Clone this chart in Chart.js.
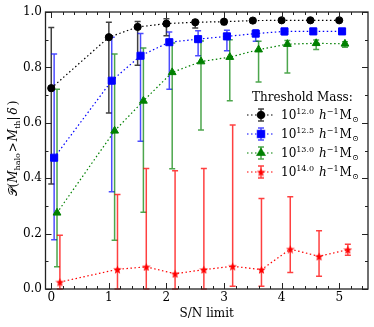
<!DOCTYPE html>
<html>
<head>
<meta charset="utf-8">
<script src="https://cdn.jsdelivr.net/npm/chart.js@4.4.0/dist/chart.umd.min.js"></script>
<style>
  html, body { margin: 0; padding: 0; background: #fff; }
</style>
</head>
<body>
<canvas id="chart" width="374" height="327"></canvas>
<script>
// S/N limit positions (each mass threshold slightly offset)
const snBlack = [0, 1, 1.5, 2, 2.5, 3, 3.5, 4, 4.5, 5];
const snBlue  = [0.05, 1.05, 1.55, 2.05, 2.55, 3.05, 3.55, 4.05, 4.55, 5.05];
const snGreen = [0.1, 1.1, 1.6, 2.1, 2.6, 3.1, 3.6, 4.1, 4.6, 5.1];
const snRed   = [0.15, 1.15, 1.65, 2.15, 2.65, 3.15, 3.65, 4.15, 4.65, 5.15];

// probability + error bar ends
const pBlack  = [0.725, 0.909, 0.946, 0.958, 0.963, 0.965, 0.969, 0.970, 0.970, 0.970];
const loBlack = [0.379, 0.635, 0.808, 0.914, 0.942, 0.955, 0.962, 0.965, 0.966, 0.967];
const hiBlack = [0.944, 0.963, 0.966, 0.976, 0.970, 0.972, 0.974, 0.974, 0.974, 0.973];

const pBlue  = [0.474, 0.752, 0.842, 0.891, 0.902, 0.912, 0.922, 0.930, 0.930, 0.930];
const loBlue = [0.178, 0.351, 0.533, 0.721, 0.842, 0.860, 0.894, 0.918, 0.924, 0.925];
const hiBlue = [0.848, 0.909, 0.922, 0.928, 0.932, 0.934, 0.936, 0.938, 0.935, 0.934];

const pGreen  = [0.275, 0.571, 0.679, 0.782, 0.821, 0.837, 0.864, 0.884, 0.887, 0.885];
const loGreen = [0.080, 0.176, 0.277, 0.434, 0.574, 0.680, 0.747, 0.780, 0.865, 0.873];
const hiGreen = [0.721, 0.848, 0.870, 0.888, 0.895, 0.900, 0.894, 0.897, 0.899, 0.893];

const pRed  = [0.025, 0.071, 0.080, 0.055, 0.070, 0.082, 0.070, 0.144, 0.118, 0.142];
const loRed = [0, 0, 0, 0, 0, 0.010, 0.010, 0.060, 0.046, 0.122];
const hiRed = [0.194, 0.341, 0.435, 0.427, 0.435, 0.592, 0.327, 0.333, 0.210, 0.162];

const massExp = ['12.0', '12.5', '13.0', '14.0'];
const xTicks = [0, 1, 2, 3, 4, 5];
const yTicks = [0, 0.2, 0.4, 0.6, 0.8, 1.0];

const SERIF = '"DejaVu Serif", "Liberation Serif", serif';

// filled five point star for the 10^14 markers
function makeStar(color, size) {
  const c = document.createElement('canvas');
  c.width = size; c.height = size;
  const g = c.getContext('2d');
  const r1 = size / 2, r2 = size / 4.6, cx = size / 2, cy = size / 2 + 0.5;
  g.beginPath();
  for (let i = 0; i < 10; i++) {
    const r = i % 2 ? r2 : r1;
    const a = -Math.PI / 2 + i * Math.PI / 5;
    g.lineTo(cx + r * Math.cos(a), cy + r * Math.sin(a));
  }
  g.closePath();
  g.fillStyle = color;
  g.fill();
  return c;
}
const starImg = makeStar('#ff0000', 9);

const series = [
  { x: snBlack, p: pBlack, lo: loBlack, hi: hiBlack, color: '#000000', bar: 'rgba(0,0,0,0.75)', style: 'circle', r: 3.6 },
  { x: snBlue, p: pBlue, lo: loBlue, hi: hiBlue, color: '#0000ff', bar: 'rgba(0,0,255,0.7)', style: 'rect', r: 5 },
  { x: snGreen, p: pGreen, lo: loGreen, hi: hiGreen, color: '#008000', bar: 'rgba(0,128,0,0.7)', style: 'triangle', r: 4.5 },
  { x: snRed, p: pRed, lo: loRed, hi: hiRed, color: '#ff0000', bar: 'rgba(255,0,0,0.75)', style: starImg, r: 4 }
];

function drawErr(ctx, x, y1, y2, color) {
  const cap = 3;
  ctx.strokeStyle = color;
  ctx.lineWidth = 1.5;
  ctx.beginPath();
  ctx.moveTo(x, y1); ctx.lineTo(x, y2);
  ctx.moveTo(x - cap, y1); ctx.lineTo(x + cap, y1);
  ctx.moveTo(x - cap, y2); ctx.lineTo(x + cap, y2);
  ctx.stroke();
}

// draws a list of text pieces one after another, returns end x
function drawParts(ctx, parts, x, y) {
  for (const p of parts) {
    ctx.font = p.font;
    ctx.fillText(p.t, x, y + (p.dy || 0));
    x += ctx.measureText(p.t).width + (p.gap || 0);
  }
  return x;
}
function partsWidth(ctx, parts) {
  let w = 0;
  for (const p of parts) { ctx.font = p.font; w += ctx.measureText(p.t).width + (p.gap || 0); }
  return w;
}

function drawMarker(ctx, s, x, y) {
  if (s.style === starImg) {
    ctx.drawImage(starImg, x - starImg.width / 2, y - starImg.height / 2);
    return;
  }
  Chart.helpers.drawPoint(ctx, { pointStyle: s.style, radius: s.r, rotation: 0, borderWidth: 1 }, x, y);
  ctx.fill();
}

const decor = {
  id: 'decor',
  beforeDatasetsDraw(chart) {
    const ctx = chart.ctx, xs = chart.scales.x, ys = chart.scales.y;
    ctx.save();
    series.forEach(s => {
      s.x.forEach((v, i) => {
        drawErr(ctx, xs.getPixelForValue(v), ys.getPixelForValue(s.lo[i]), ys.getPixelForValue(s.hi[i]), s.bar);
      });
    });
    ctx.restore();
  },
  afterDatasetsDraw(chart) {
    const ctx = chart.ctx, a = chart.chartArea, xs = chart.scales.x, ys = chart.scales.y;
    ctx.save();

    // frame
    ctx.strokeStyle = '#222';
    ctx.lineWidth = 1.3;
    ctx.strokeRect(a.left, a.top, a.right - a.left, a.bottom - a.top);

    // inward ticks on all four sides
    ctx.lineWidth = 1;
    ctx.beginPath();
    for (let v = 0; v <= 5.45; v += 0.2) {
      const major = Math.abs(v - Math.round(v)) < 1e-6;
      const L = major ? 6 : 3;
      const px = Math.round(xs.getPixelForValue(v)) + 0.5;
      ctx.moveTo(px, a.bottom); ctx.lineTo(px, a.bottom - L);
      ctx.moveTo(px, a.top); ctx.lineTo(px, a.top + L);
    }
    for (let v = 0; v <= 1.001; v += 0.1) {
      const major = Math.abs(v * 5 - Math.round(v * 5)) < 1e-6;
      const L = major ? 6 : 3;
      const py = Math.round(ys.getPixelForValue(v)) + 0.5;
      ctx.moveTo(a.left, py); ctx.lineTo(a.left + L, py);
      ctx.moveTo(a.right, py); ctx.lineTo(a.right - L, py);
    }
    ctx.stroke();

    // legend
    ctx.fillStyle = '#000';
    ctx.textBaseline = 'alphabetic';
    ctx.textAlign = 'left';
    ctx.font = '12px ' + SERIF;
    ctx.fillText('Threshold Mass:', a.right - 116, a.top + 89);
    series.forEach((s, i) => {
      const y = a.top + 103 + i * 19;
      const x0 = a.right - 121, x1 = a.right - 95, xm = a.right - 107;
      ctx.save();
      ctx.strokeStyle = s.color;
      ctx.lineWidth = 1.2;
      ctx.setLineDash([1.5, 2.5]);
      ctx.beginPath(); ctx.moveTo(x0, y); ctx.lineTo(x1, y); ctx.stroke();
      ctx.restore();
      drawErr(ctx, xm, y - 6, y + 6, s.bar);
      ctx.fillStyle = s.color;
      drawMarker(ctx, s, xm, y);
      ctx.fillStyle = '#000';
      drawParts(ctx, [
        { t: '10', font: '12px ' + SERIF },
        { t: massExp[i], font: '8px ' + SERIF, dy: -5, gap: 5 },
        { t: 'h', font: 'italic 12px ' + SERIF },
        { t: '\u22121', font: '8px ' + SERIF, dy: -5, gap: 1 },
        { t: 'M', font: '12px ' + SERIF },
        { t: '\u2299', font: '8px ' + SERIF, dy: 3 }
      ], a.right - 87, y + 4);
    });

    // y axis label
    const yl = [
      { t: '\uD835\uDCAB', font: '12px ' + SERIF },
      { t: '(', font: '12px ' + SERIF },
      { t: 'M', font: 'italic 12px ' + SERIF },
      { t: 'halo', font: '8px ' + SERIF, dy: 3, gap: 1 },
      { t: '>', font: '12px ' + SERIF, gap: 1 },
      { t: 'M', font: 'italic 12px ' + SERIF },
      { t: 'th', font: '8px ' + SERIF, dy: 3 },
      { t: '|', font: '12px ' + SERIF, gap: 2 },
      { t: '\u03B4', font: 'italic 12px ' + SERIF, gap: 2 },
      { t: ')', font: '12px ' + SERIF }
    ];
    ctx.translate(13, (a.top + a.bottom) / 2 - 2);
    ctx.rotate(-Math.PI / 2);
    const w = partsWidth(ctx, yl);
    drawParts(ctx, yl, -w / 2, 4);
    ctx.restore();
  }
};

const datasets = series.map(s => ({
  data: s.x.map((v, i) => ({ x: v, y: s.p[i] })),
  borderColor: s.color,
  backgroundColor: s.color,
  borderWidth: 1.2,
  borderDash: [1.5, 2.5],
  pointStyle: s.style,
  pointRadius: s.r,
  pointBorderWidth: 1,
  pointBorderColor: s.color,
  pointBackgroundColor: s.color,
  tension: 0,
  fill: false
}));

new Chart(document.getElementById('chart'), {
  type: 'line',
  data: { datasets },
  options: {
    responsive: false,
    animation: false,
    devicePixelRatio: 1,
    layout: { padding: { top: 12, right: 6, left: 0, bottom: 0 } },
    plugins: { legend: { display: false }, tooltip: { enabled: false } },
    scales: {
      x: {
        type: 'linear', min: -0.1, max: 5.5,
        grid: { display: false, drawTicks: false, tickLength: 0 }, border: { display: false },
        afterBuildTicks: s => { s.ticks = xTicks.map(v => ({ value: v })); },
        afterFit: s => { s.height = 38; },
        ticks: { color: '#000', padding: 2, maxRotation: 0, font: { family: SERIF, size: 12 }, callback: v => String(v) },
        title: { display: true, text: 'S/N limit', color: '#000', font: { family: SERIF, size: 12 }, padding: { top: 0, bottom: 6 } }
      },
      y: {
        min: 0, max: 1,
        grid: { display: false, drawTicks: false, tickLength: 0 }, border: { display: false },
        afterBuildTicks: s => { s.ticks = yTicks.map(v => ({ value: v })); },
        afterFit: s => { s.width = 45.5; },
        ticks: { color: '#000', padding: 3.5, crossAlign: 'near', font: { family: SERIF, size: 12 }, callback: v => v.toFixed(1) }
      }
    }
  },
  plugins: [decor]
});
</script>
</body>
</html>
